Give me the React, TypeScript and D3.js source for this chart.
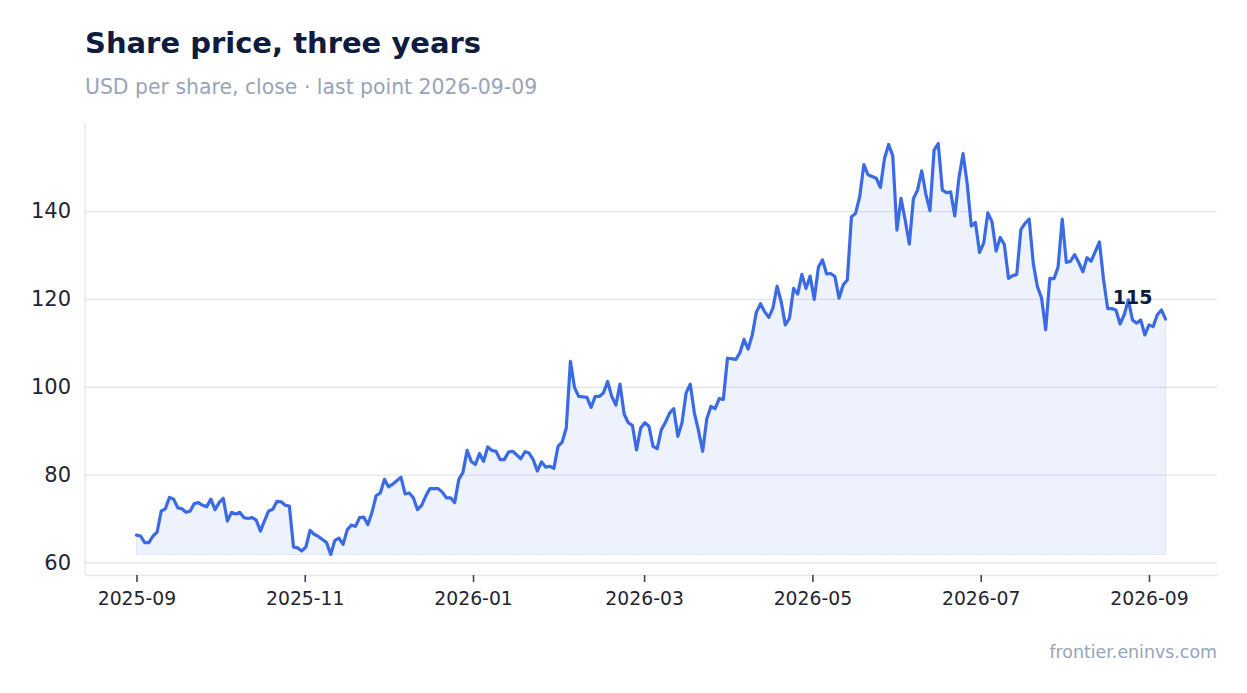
import React, { useEffect, useRef } from 'react';
import * as d3 from 'd3';

// first and last close in the series
const firstClose = '2025-09-01';
const lastClose = '2026-09-09';

// closing prices, USD per share, oldest first
const prices: number[] = [
  66.2, 66.0, 64.5, 64.5, 66.0, 66.9, 71.7, 72.2, 74.8, 74.4,
  72.4, 72.2, 71.4, 71.7, 73.4, 73.6, 73.0, 72.7, 74.4, 72.0,
  73.6, 74.6, 69.4, 71.4, 71.0, 71.4, 70.2, 70.0, 70.2, 69.6,
  67.1, 69.5, 71.7, 72.1, 73.9, 73.8, 73.0, 72.8, 63.5, 63.3,
  62.6, 63.5, 67.3, 66.4, 65.9, 65.2, 64.5, 61.8, 65.0, 65.5,
  64.1, 67.4, 68.5, 68.2, 70.2, 70.3, 68.6, 71.4, 75.2, 75.8,
  78.9, 77.2, 77.8, 78.6, 79.4, 75.6, 75.8, 74.7, 72.0, 73.0,
  75.1, 76.8, 76.8, 76.8, 76.0, 74.7, 74.7, 73.6, 78.9, 80.5,
  85.5, 83.0, 82.3, 84.8, 83.0, 86.3, 85.5, 85.3, 83.4, 83.4,
  85.1, 85.3, 84.5, 83.6, 85.2, 84.9, 83.4, 80.8, 82.9, 81.7,
  81.9, 81.4, 86.4, 87.4, 90.6, 105.8, 99.8, 97.8, 97.7, 97.6,
  95.3, 97.8, 97.8, 98.6, 101.2, 97.8, 95.8, 100.6, 93.8, 91.8,
  91.2, 85.6, 90.6, 91.8, 91.0, 86.4, 85.9, 90.2, 91.9, 94.0,
  95.0, 88.7, 91.8, 98.6, 100.6, 94.0, 90.0, 85.3, 92.7, 95.5,
  95.0, 97.3, 97.1, 106.5, 106.4, 106.2, 107.7, 110.8, 108.6, 111.8,
  117.0, 118.9, 117.1, 115.8, 117.9, 122.9, 119.4, 114.1, 115.6, 122.4,
  121.1, 125.6, 122.4, 125.2, 119.9, 127.2, 128.9, 125.7, 125.8, 125.1,
  120.2, 123.2, 124.3, 138.7, 139.5, 143.3, 150.6, 148.3, 147.9, 147.5,
  145.4, 152.0, 155.2, 152.6, 135.7, 142.9, 138.0, 132.5, 142.9, 144.8,
  149.2, 143.9, 140.1, 153.9, 155.4, 144.8, 144.2, 144.4, 138.9, 147.5,
  153.1, 146.3, 136.6, 137.4, 130.6, 132.7, 139.6, 137.6, 130.9, 134.0,
  132.4, 124.7, 125.3, 125.6, 135.8, 137.2, 138.2, 128.1, 122.8, 120.2,
  113.0, 124.7, 124.6, 127.3, 138.2, 128.3, 128.6, 130.1, 128.3, 126.2,
  129.4, 128.6, 130.8, 133.0, 124.4, 117.8, 117.8, 117.5, 114.3, 116.4,
  119.8, 115.2, 114.5, 115.2, 111.8, 114.1, 113.7, 116.4, 117.5, 115.4,
];

const yTicks = [60, 80, 100, 120, 140];
const xTicks = ['2025-09-01', '2025-11-01', '2026-01-01', '2026-03-04', '2026-05-04', '2026-07-04', '2026-09-03'];

const title = 'Share price, three years';
const subtitle = 'USD per share, close · last point 2026-09-09';
const source = 'frontier.eninvs.com';

const WIDTH = 1247;
const HEIGHT = 693;
const FONT = '"DejaVu Sans", Verdana, sans-serif';

const App: React.FC = () => {
  const svgRef = useRef<SVGSVGElement>(null);

  useEffect(() => {
    if (!svgRef.current) return;

    const svg = d3.select(svgRef.current);
    svg.selectAll('*').remove();

    // plot box
    const left = 85;
    const right = 1217;
    const top = 123;
    const bottom = 575;

    const parse = d3.utcParse('%Y-%m-%d');
    const t0 = parse(firstClose) as Date;
    const t1 = parse(lastClose) as Date;

    // samples are evenly spaced between the first and the last close
    const when = d3.scaleLinear().domain([0, prices.length - 1]).range([+t0, +t1]);
    const data = prices.map((v, i) => ({ date: new Date(when(i)), value: v }));

    // 5% breathing room on both axes
    const span = +t1 - +t0;
    const x = d3
      .scaleUtc()
      .domain([new Date(+t0 - span * 0.05), new Date(+t1 + span * 0.05)])
      .range([left, right]);

    const [lo, hi] = d3.extent(prices) as [number, number];
    const pad = (hi - lo) * 0.05;
    const y = d3.scaleLinear().domain([lo - pad, hi + pad]).range([bottom, top]);

    svg.append('rect').attr('width', WIDTH).attr('height', HEIGHT).attr('fill', '#ffffff');

    // Title + subtitle
    svg
      .append('text')
      .attr('x', left)
      .attr('y', 53)
      .attr('font-family', FONT)
      .attr('font-size', 29)
      .attr('font-weight', 'bold')
      .attr('fill', '#0e1c3f')
      .text(title);

    svg
      .append('text')
      .attr('x', left)
      .attr('y', 94)
      .attr('font-family', FONT)
      .attr('font-size', 20.4)
      .attr('fill', '#98a4b8')
      .text(subtitle);

    // Y gridlines and labels
    const yAxis = svg
      .append('g')
      .attr('transform', `translate(${left},0)`)
      .call(
        d3
          .axisLeft(y)
          .tickValues(yTicks)
          .tickSize(-(right - left))
          .tickPadding(14)
          .tickFormat(d => String(d))
      );
    yAxis.select('.domain').remove();
    yAxis.selectAll('.tick line').attr('stroke', '#e2e6ee').attr('stroke-width', 1.3);
    yAxis
      .selectAll('.tick text')
      .attr('font-family', FONT)
      .attr('font-size', 21)
      .attr('fill', '#1f2533');

    // Area down to the lowest close
    const area = d3
      .area<{ date: Date; value: number }>()
      .x(d => x(d.date))
      .y0(y(lo))
      .y1(d => y(d.value));

    svg
      .append('path')
      .datum(data)
      .attr('d', area)
      .attr('fill', '#3b6ce6')
      .attr('fill-opacity', 0.09)
      .attr('stroke', '#3b6ce6')
      .attr('stroke-opacity', 0.12)
      .attr('stroke-width', 1);

    // Price line
    const line = d3
      .line<{ date: Date; value: number }>()
      .x(d => x(d.date))
      .y(d => y(d.value));

    svg
      .append('path')
      .datum(data)
      .attr('d', line)
      .attr('fill', 'none')
      .attr('stroke', '#3a6ae6')
      .attr('stroke-width', 3.2)
      .attr('stroke-linejoin', 'round')
      .attr('stroke-linecap', 'round');

    // Left spine
    svg
      .append('line')
      .attr('x1', left)
      .attr('x2', left)
      .attr('y1', top)
      .attr('y2', bottom)
      .attr('stroke', '#e2e6ee')
      .attr('stroke-width', 1.3);

    // X axis
    const xAxis = svg
      .append('g')
      .attr('transform', `translate(0,${bottom})`)
      .call(
        d3
          .axisBottom(x)
          .tickValues(xTicks.map(s => parse(s) as Date))
          .tickSizeInner(7)
          .tickSizeOuter(0)
          .tickPadding(10)
          .tickFormat(d => d3.utcFormat('%Y-%m')(d as Date))
      );
    xAxis.select('.domain').attr('stroke', '#e2e6ee').attr('stroke-width', 1.3);
    xAxis.selectAll('.tick line').attr('stroke', '#3d4453').attr('stroke-width', 1.6);
    xAxis
      .selectAll('.tick text')
      .attr('font-family', FONT)
      .attr('font-size', 18.8)
      .attr('fill', '#1f2533');

    // Last value label
    const last = data[data.length - 1];
    svg
      .append('text')
      .attr('x', x(last.date) - 13)
      .attr('y', y(last.value) - 15)
      .attr('text-anchor', 'end')
      .attr('font-family', FONT)
      .attr('font-size', 19)
      .attr('font-weight', 'bold')
      .attr('fill', '#0e1c3f')
      .text(d3.format('.0f')(last.value));

    // Source
    svg
      .append('text')
      .attr('x', right)
      .attr('y', 658)
      .attr('text-anchor', 'end')
      .attr('font-family', FONT)
      .attr('font-size', 17.4)
      .attr('fill', '#98a4b8')
      .text(source);
  }, []);

  return (
    <svg
      ref={svgRef}
      width={WIDTH}
      height={HEIGHT}
      style={{ position: 'absolute', left: 0, top: 0, display: 'block' }}
    />
  );
};

export default App;
